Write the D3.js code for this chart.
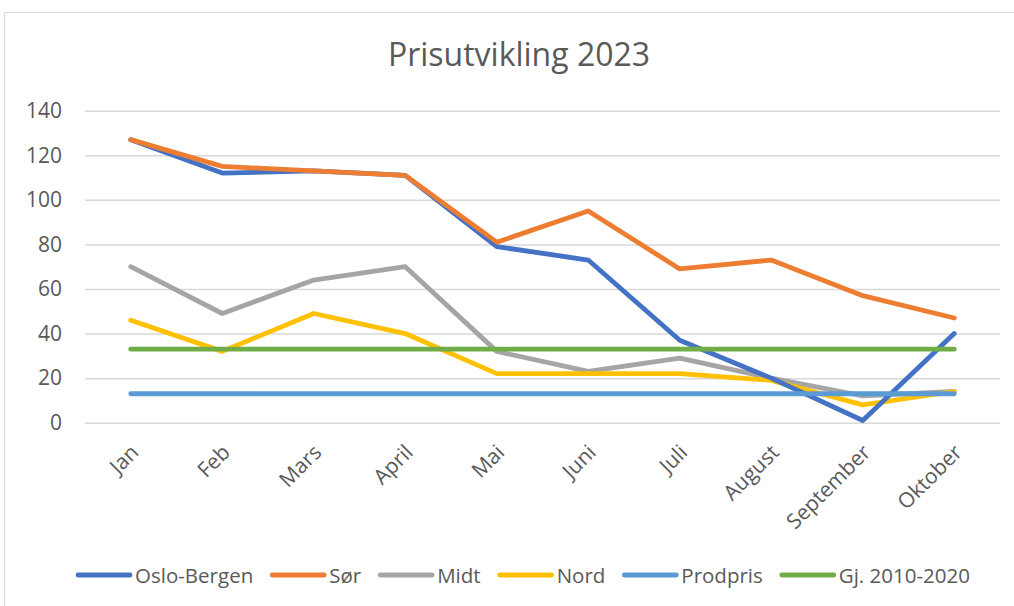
<!DOCTYPE html>
<html><head><meta charset="utf-8">
<script src="https://cdn.jsdelivr.net/npm/d3@7"></script>
<style>body{margin:0;background:#fff}svg{display:block;font-family:"Open Sans",sans-serif}</style>
</head><body><svg id="c" width="1014" height="606"></svg>
<script>
const months = ["Jan","Feb","Mars","April","Mai","Juni","Juli","August","September","Oktober"];
const osloBergen = [127,112,113,111,79,73,37,20,1,40];
const sor = [127,115,113,111,81,95,69,73,57,47];
const midt = [70,49,64,70,32,23,29,20,12,14];
const nord = [46,32,49,40,22,22,22,19,8,14];
const prodpris = [13,13,13,13,13,13,13,13,13,13];
const gj = [33,33,33,33,33,33,33,33,33,33];
const yTicks = [0,20,40,60,80,100,120,140];
const seriesNames = ["Oslo-Bergen","Sør","Midt","Nord","Prodpris","Gj. 2010-2020"];
const seriesData = [osloBergen,sor,midt,nord,prodpris,gj];
const colors = ["#4472C4","#ED7D31","#A5A5A5","#FFC000","#5B9BD5","#70AD47"];
const drawOrder = [2,3,0,1,5,4];

const svg = d3.select("#c");
svg.append("rect").attr("x",4.5).attr("y",12.5).attr("width",1030).attr("height",620)
  .attr("fill","#fff").attr("stroke","#d9d9d9").attr("stroke-width",1);

svg.append("text").attr("x",519).attr("y",66).attr("text-anchor","middle")
  .attr("font-size",32).attr("fill","#595959").text("Prisutvikling 2023");

const x = d3.scaleBand().domain(months).range([85,1000]);
const y = d3.scaleLinear().domain([0,140]).range([422.7,110.7]);

const yAxis = svg.append("g").attr("transform","translate(85,0)")
  .call(d3.axisLeft(y).tickValues(yTicks).tickSize(-915).tickPadding(23));
yAxis.select(".domain").remove();
yAxis.selectAll("line").attr("stroke","#d9d9d9").attr("stroke-width",1.5);
yAxis.selectAll("text").attr("font-size",21).attr("fill","#595959").attr("font-family","Open Sans");

const xAxis = svg.append("g").attr("transform","translate(0,422.7)")
  .call(d3.axisBottom(x).tickSize(0));
xAxis.select(".domain").remove();
xAxis.selectAll("text").attr("font-size",21).attr("fill","#595959").attr("font-family","Open Sans")
  .attr("text-anchor","end").attr("dy",null).attr("y",0)
  .attr("transform","translate(9,31) rotate(-45)");

const line = d3.line().x((d,i)=>x(months[i])+x.bandwidth()/2).y(d=>y(d));
drawOrder.forEach(k=>{
  svg.append("path").datum(seriesData[k]).attr("d",line).attr("fill","none")
    .attr("stroke",colors[k]).attr("stroke-width",4.8)
    .attr("stroke-linejoin","round").attr("stroke-linecap","round");
});

// legend
const lg = svg.append("g");
let cx = 0;
seriesNames.forEach((n,i)=>{
  const g = lg.append("g");
  g.append("line").attr("x1",2).attr("x2",54).attr("y1",0).attr("y2",0)
    .attr("stroke",colors[i]).attr("stroke-width",4.8).attr("stroke-linecap","round");
  const t = g.append("text").attr("x",59).attr("y",7.5).attr("font-size",20.5).attr("fill","#595959").text(n);
  const w = t.node().getComputedTextLength();
  g.attr("transform",`translate(${cx},0)`);
  cx += 59 + w + 17;
});
const total = cx - 17;
lg.attr("transform",`translate(${523 - total/2},575)`);
</script></body></html>
